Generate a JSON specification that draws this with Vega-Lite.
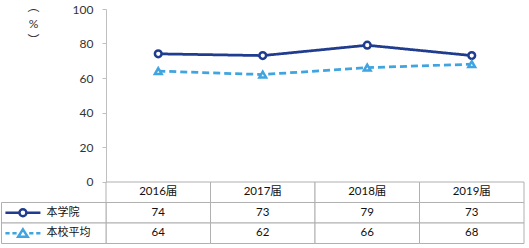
{
  "$schema": "https://vega.github.io/schema/vega-lite/v6.json",
  "background": "white",
  "padding": {"left": 0, "top": 0, "right": 0, "bottom": 0},
  "config": {
    "view": {"stroke": null},
    "font": "Lato, 'Noto Sans CJK SC'"
  },
  "datasets": {
    "vals": [
      {"series": "本学院", "year": "2016届", "value": 74},
      {"series": "本学院", "year": "2017届", "value": 73},
      {"series": "本学院", "year": "2018届", "value": 79},
      {"series": "本学院", "year": "2019届", "value": 73},
      {"series": "本校平均", "year": "2016届", "value": 64},
      {"series": "本校平均", "year": "2017届", "value": 62},
      {"series": "本校平均", "year": "2018届", "value": 66},
      {"series": "本校平均", "year": "2019届", "value": 68}
    ],
    "years": [
      {"year": "2016届"},
      {"year": "2017届"},
      {"year": "2018届"},
      {"year": "2019届"}
    ],
    "series": [
      {"series": "本学院"},
      {"series": "本校平均"}
    ]
  },
  "spacing": 0,
  "bounds": "flush",
  "resolve": {"scale": {"color": "independent", "shape": "independent", "strokeDash": "independent", "stroke": "independent"}},
  "vconcat": [
    {
      "width": 418,
      "height": 172.5,
      "data": {"name": "vals"},
      "encoding": {
        "x": {
          "field": "year", "type": "nominal",
          "scale": {"domain": ["2016届", "2017届", "2018届", "2019届"], "paddingInner": 0, "paddingOuter": 0},
          "axis": null
        },
        "y": {
          "field": "value", "type": "quantitative",
          "scale": {"domain": [0, 100], "nice": false},
          "axis": {
            "values": [0, 20, 40, 60, 80, 100],
            "grid": false,
            "domainColor": "#bfbfbf",
            "tickColor": "#bfbfbf",
            "tickSize": 4,
            "labelPadding": 9,
            "labelFontSize": 12,
            "labelColor": "#333333",
            "title": ["︵", "%", "︶"],
            "titleAngle": 0,
            "titleFontSize": 12,
            "titleFontWeight": "normal",
            "titleColor": "#333333",
            "titleAlign": "center",
            "titleBaseline": "top",
            "titleLineHeight": 17,
            "titleX": -73,
            "titleY": -8
          }
        }
      },
      "layer": [
        {
          "mark": {"type": "line", "strokeWidth": 2.75},
          "encoding": {
            "color": {"field": "series", "type": "nominal", "scale": {"domain": ["本学院", "本校平均"], "range": ["#1f3c8e", "#3fa4df"]}, "legend": null},
            "strokeDash": {"field": "series", "type": "nominal", "scale": {"domain": ["本学院", "本校平均"], "range": [[1, 0], [7, 4]]}, "legend": null}
          }
        },
        {
          "mark": {"type": "point", "filled": true, "fill": "white", "strokeWidth": 2.5, "size": 45, "opacity": 1},
          "encoding": {
            "stroke": {"field": "series", "type": "nominal", "scale": {"domain": ["本学院", "本校平均"], "range": ["#1f3c8e", "#3fa4df"]}, "legend": null},
            "shape": {"field": "series", "type": "nominal", "scale": {"domain": ["本学院", "本校平均"], "range": ["circle", "triangle-up"]}, "legend": null}
          }
        }
      ]
    },
    {
      "width": 418,
      "height": 61.5,
      "layer": [
        {
          "data": {"name": "years"},
          "mark": {"type": "rect", "fill": "white", "stroke": "#b0b0b0", "strokeWidth": 1},
          "encoding": {
            "x": {"field": "year", "type": "nominal", "scale": {"domain": ["label", "2016届", "2017届", "2018届", "2019届"], "range": [-104.5, 418], "paddingInner": 0, "paddingOuter": 0}, "axis": null},
            "y": {"datum": "hdr", "type": "nominal", "scale": {"domain": ["hdr", "本学院", "本校平均"], "paddingInner": 0, "paddingOuter": 0}, "axis": null}
          }
        },
        {
          "data": {"name": "vals"},
          "mark": {"type": "rect", "fill": "white", "stroke": "#b0b0b0", "strokeWidth": 1},
          "encoding": {
            "x": {"field": "year", "type": "nominal"},
            "y": {"field": "series", "type": "nominal"}
          }
        },
        {
          "data": {"name": "series"},
          "mark": {"type": "rect", "fill": "white", "stroke": "#b0b0b0", "strokeWidth": 1},
          "encoding": {
            "x": {"datum": "label", "type": "nominal"},
            "y": {"field": "series", "type": "nominal"}
          }
        },
        {
          "data": {"name": "years"},
          "mark": {"type": "text", "fontSize": 11.5, "color": "#111111", "baseline": "middle"},
          "encoding": {
            "x": {"field": "year", "type": "nominal"},
            "y": {"datum": "hdr", "type": "nominal"},
            "text": {"field": "year"}
          }
        },
        {
          "data": {"name": "vals"},
          "mark": {"type": "text", "fontSize": 11.5, "color": "#111111", "baseline": "middle"},
          "encoding": {
            "x": {"field": "year", "type": "nominal"},
            "y": {"field": "series", "type": "nominal"},
            "text": {"field": "value"}
          }
        },
        {
          "data": {"name": "series"},
          "mark": {"type": "text", "fontSize": 11, "color": "#111111", "align": "left", "baseline": "middle"},
          "encoding": {
            "x": {"datum": "label", "type": "nominal", "bandPosition": 0.43},
            "y": {"field": "series", "type": "nominal"},
            "text": {"field": "series"}
          }
        },
        {
          "data": {"name": "series"},
          "transform": [{"filter": "datum.series === '本学院'"}],
          "mark": {
            "type": "point", "filled": false, "stroke": "#1f3c8e", "strokeWidth": 2.5, "size": 1225, "opacity": 1,
            "shape": "M-1,0H-0.2M0.2,0H1M-0.2,0A0.2,0.2,0,1,0,0.2,0A0.2,0.2,0,1,0,-0.2,0"
          },
          "encoding": {
            "x": {"datum": "label", "type": "nominal", "bandPosition": 0.205},
            "y": {"field": "series", "type": "nominal"}
          }
        },
        {
          "data": {"name": "series"},
          "transform": [{"filter": "datum.series === '本校平均'"}],
          "mark": {
            "type": "point", "filled": false, "stroke": "#3fa4df", "strokeWidth": 2.5, "size": 1225, "opacity": 1,
            "shape": "M-1,0H-0.76M-0.6,0H-0.36M0.36,0H0.6M0.76,0H1M0,-0.22L0.27,0.2L-0.27,0.2Z"
          },
          "encoding": {
            "x": {"datum": "label", "type": "nominal", "bandPosition": 0.205},
            "y": {"field": "series", "type": "nominal"}
          }
        }
      ]
    }
  ]
}
